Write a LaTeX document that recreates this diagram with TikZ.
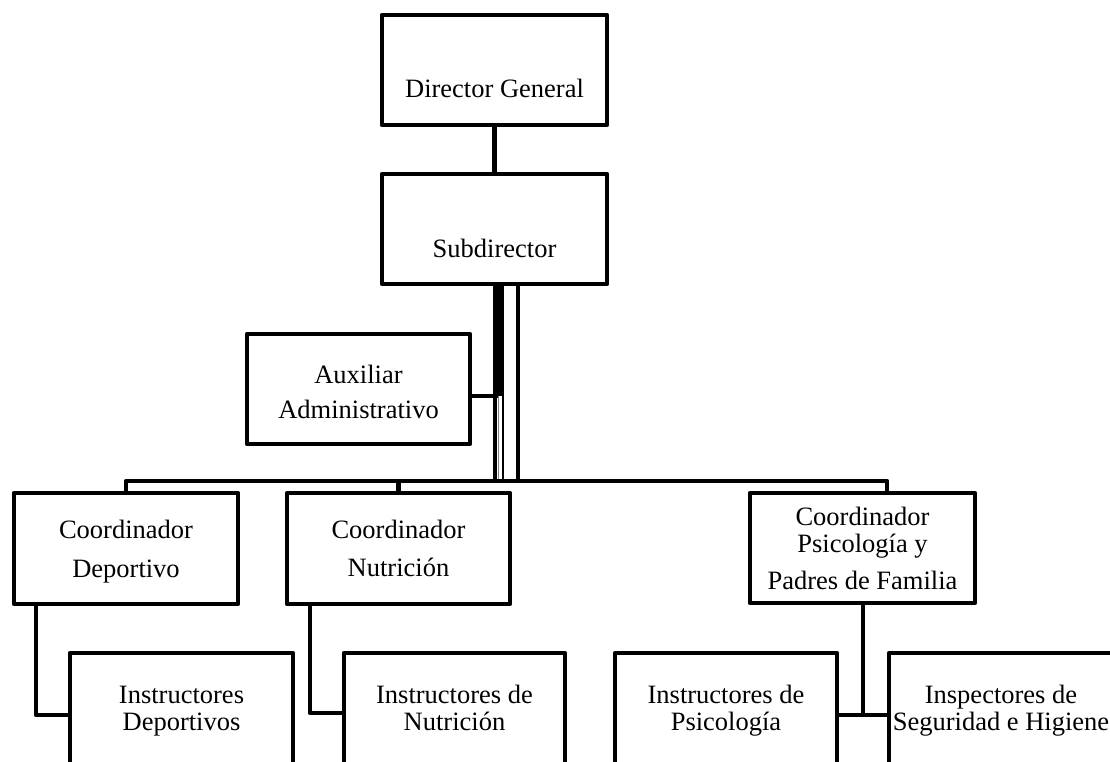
\documentclass[tikz,border=0pt]{standalone}
\usepackage{fontspec}
\setmainfont{Liberation Serif}
\usetikzlibrary{calc}
\newcommand{\boxlines}[1]{\begin{tabular}[t]{@{}c@{}}#1\end{tabular}}
\begin{document}
\begin{tikzpicture}[x=1pt,y=-1pt,
  orgbox/.style={draw=black, line width=4.5pt, line join=round, rectangle,
    inner sep=0pt, outer sep=0pt, fill=white},
  conn/.style={draw=black, line width=4.5pt, line join=round},
  lbl/.style={anchor=base, inner sep=0pt, font=\fontsize{26.5}{27}\selectfont}]
\useasboundingbox (0,0) rectangle (1110,762);
\clip (0,0) rectangle (1110,762);

% boxes
\node[orgbox, minimum width=225, minimum height=110] (dg)   at (494.5,70)  {};
\node[orgbox, minimum width=225, minimum height=110] (sub)  at (494.5,229) {};
\node[orgbox, minimum width=223, minimum height=110] (aux)  at (358.5,389) {};
\node[orgbox, minimum width=224, minimum height=111] (cdep) at (126,548.5) {};
\node[orgbox, minimum width=223, minimum height=111] (cnut) at (398.5,548.5) {};
\node[orgbox, minimum width=225, minimum height=110] (cpsi) at (862.5,548) {};
\node[orgbox, minimum width=223, minimum height=112] (idep) at (181.5,709) {};
\node[orgbox, minimum width=221, minimum height=112] (inut) at (454.5,709) {};
\node[orgbox, minimum width=222, minimum height=112] (ipsi) at (726,709) {};
\node[orgbox, minimum width=224, minimum height=112] (insp) at (1001,709) {};

% labels
\node[lbl] (tdg)   at (494.5,98)  {\boxlines{Director General}};
\node[lbl] (tsub)  at (494.5,257) {\boxlines{Subdirector}};
\node[lbl] (taux)  at (358.5,383) {\boxlines{Auxiliar\\[8pt] Administrativo}};
\node[lbl] (tcdep) at (126,538)   {\boxlines{Coordinador\\[12pt] Deportivo}};
\node[lbl] (tcnut) at (398.5,538) {\boxlines{Coordinador\\[11pt] Nutrición}};
\node[lbl] (tcpsi) at (862.5,525) {\boxlines{Coordinador\\ Psicología y\\[10pt] Padres de Familia}};
\node[lbl] (tidep) at (181.5,703) {\boxlines{Instructores\\ Deportivos}};
\node[lbl] (tinut) at (454.5,703) {\boxlines{Instructores de\\ Nutrición}};
\node[lbl] (tipsi) at (726,703)   {\boxlines{Instructores de\\ Psicología}};
\node[lbl] (tinsp) at (1001,703)  {\boxlines{Inspectores de\\ Seguridad e Higiene}};

% helper levels
\coordinate (bus)  at (0,481);
\coordinate (auxy) at (0,396);

% director to subdirector
\draw[conn] (dg.south) -- (sub.north);

% stacked lines below the subdirector
\coordinate (vA) at ($(sub.south)+(0.5,0)$);
\coordinate (vB) at ($(sub.south)+(3.5,0)$);
\coordinate (vC) at ($(sub.south)+(8.5,0)$);
\coordinate (vD) at ($(sub.south)+(23.5,0)$);
\coordinate (vE) at ($(sub.south)+(4,0)$);
\draw[conn] (vA) -- (vA |- bus);
\draw[conn, line width=7pt] (vB) -- (vB |- auxy);
\draw[conn, line width=1.5pt] (vC) -- (vC |- bus);
\draw[conn] (vD) -- (vD |- bus);
\draw[gray, line width=1pt] (vE |- auxy) -- (vE |- bus);

% auxiliary branch
\draw[conn] ($(aux.east)+(0,7)$) -- (vB |- auxy);

% bus to coordinators
\coordinate (pdrop) at ($(cpsi.north)+(24.5,0)$);
\draw[conn] (cdep.north) |- (bus -| pdrop) -- (pdrop);
\draw[conn] (cnut.north) -- (cnut.north |- bus);

% coordinators to staff
\coordinate (dv) at ($(cdep.south west)+(22,0)$);
\draw[conn] (dv) |- ($(idep.west)+(0,6)$);
\coordinate (nv) at ($(cnut.south west)+(23,0)$);
\draw[conn] (nv) |- ($(inut.west)+(0,4)$);
\coordinate (pv) at ($(cpsi.south)+(0.5,0)$);
\coordinate (pj) at ($(cpsi.south)+(0.5,112)$);
\draw[conn] (pv) -- (pj);
\draw[conn] (ipsi.east |- pj) -- (insp.west |- pj);
\end{tikzpicture}
\end{document}
